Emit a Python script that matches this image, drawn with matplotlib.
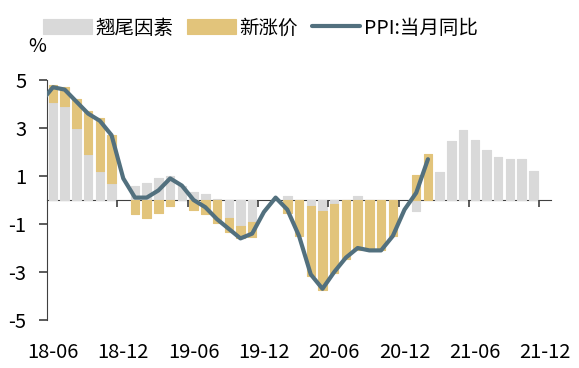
import numpy as np
import matplotlib.pyplot as plt

plt.rcParams['font.family'] = ['Noto Sans CJK SC', 'DejaVu Sans']

# 月份: 18-05 到 21-12 (18-05 只用于折线起点)
months = [f'{y}-{m:02d}' for y in range(18, 22) for m in range(1, 13)][4:]
nan = np.nan

# 翘尾因素
carry = [nan,
         4.1, 3.9, 3.0, 1.9, 1.2, 0.7, nan,
         0.6, 0.7, 0.9, 1.0, 0.6, 0.35, 0.25, 0.05, -0.75, -1.1, -0.9, nan,
         nan, 0.15, nan, -0.25, -0.45, -0.15, nan, 0.15, nan, nan, nan, nan,
         -0.45, nan, 1.15, 2.45, 2.9, 2.5, 2.1, 1.8, 1.7, 1.7, 1.2, nan]
# 新涨价
new = [nan,
       0.7, 0.8, 1.2, 1.8, 2.2, 2.0, nan,
       -0.6, -0.75, -0.55, -0.25, nan, -0.4, -0.6, -0.95, -0.6, -0.5, -0.65, nan,
       nan, -0.55, -1.5, -2.9, -3.3, -2.9, -2.45, -2.1, -2.1, -2.1, -1.5, nan,
       1.05, 1.9, nan, nan, nan, nan, nan, nan, nan, nan, nan, nan]
# PPI:当月同比
ppi = [4.1,
       4.7, 4.6, 4.1, 3.6, 3.3, 2.7, 0.9,
       0.1, 0.1, 0.4, 0.9, 0.6, 0.0, -0.3, -0.8, -1.2, -1.6, -1.4, -0.5,
       0.1, -0.4, -1.5, -3.1, -3.7, -3.0, -2.4, -2.0, -2.1, -2.1, -1.5, -0.4,
       0.3, 1.7] + [nan] * 10

tick_labels = ['18-06', '18-12', '19-06', '19-12', '20-06', '20-12', '21-06', '21-12']

c_gray = '#D9D9D9'
c_tan = '#E2C47B'
c_line = '#52707E'

x = np.arange(len(months))
carry = np.array(carry)
new = np.array(new)
# 正负分别堆叠
same_sign = np.sign(carry) * np.sign(new) > 0
new_bottom = np.where(same_sign, carry, 0)

fig = plt.figure(figsize=(5.79, 3.68), dpi=100)
ax = fig.add_axes([47.1 / 579, 1 - 320 / 368, (551 - 47.1) / 579, 240 / 368])

w = 0.72
b1 = ax.bar(x, carry, width=w, color=c_gray, edgecolor=c_gray, linewidth=0.8,
            joinstyle='round', label='翘尾因素', zorder=1)
b2 = ax.bar(x, new, bottom=new_bottom, width=w, color=c_tan, edgecolor=c_tan,
            linewidth=0.8, joinstyle='round', label='新涨价', zorder=1)
l1, = ax.plot(x, ppi, color=c_line, linewidth=3, label='PPI:当月同比',
              solid_capstyle='round', solid_joinstyle='round', zorder=3)

ax.set_xlim(0.5, len(months) - 0.5)
ax.set_ylim(-5, 5)
ax.set_yticks([5, 3, 1, -1, -3, -5])
ax.set_yticklabels(['5', '3', '1', '-1', '-3', '-5'])

for s in ['top', 'right']:
    ax.spines[s].set_visible(False)
ax.spines['bottom'].set_position(('data', 0))
ax.spines['bottom'].set_color('#404040')
ax.spines['left'].set_color('#404040')
ax.spines['bottom'].set_zorder(0.5)

ax.set_xticks(np.arange(6.5, len(months), 6))
ax.tick_params(axis='x', length=5, width=1.2, color='#404040', labelbottom=False)
ax.tick_params(axis='y', length=6, width=1.2, color='#404040', labelsize=14.5, pad=9)

sec = ax.secondary_xaxis('bottom')
sec.set_xticks(np.arange(1, len(months), 6))
sec.set_xticklabels(tick_labels)
sec.tick_params(length=0, labelsize=14.5, pad=16)
sec.spines['bottom'].set_visible(False)

fig.text(37 / 579, 1 - 46 / 368, '%', fontsize=14, ha='center', va='center')

fig.legend(handles=[b1, b2, l1], loc='center left',
           bbox_to_anchor=(43 / 579, 1 - 28 / 368), ncol=3,
           frameon=False, fontsize=14, handlelength=2.5, handleheight=0.8,
           handletextpad=0.2, columnspacing=0.7, borderpad=0, borderaxespad=0)

fig.savefig('out.png', dpi=100)
